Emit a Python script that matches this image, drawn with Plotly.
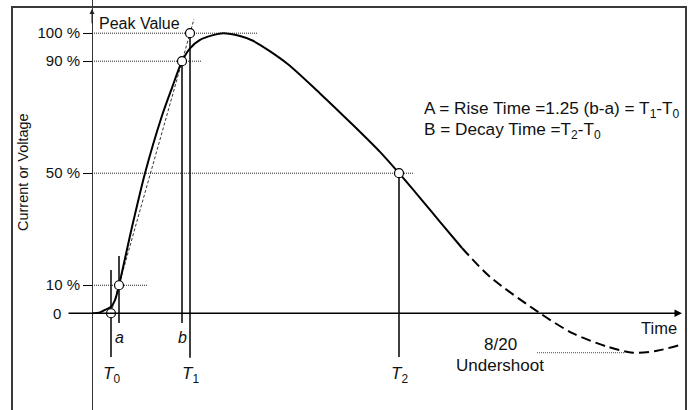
import plotly.graph_objects as go

# ---------------- data (time in arbitrary units, amplitude in % of peak) ----------------
wave_t_solid = [0.0, 0.8, 1.3, 1.9, 2.3, 2.7, 3.95, 5.3, 6.95, 8.0, 9.0, 9.8,
                10.8, 12.1, 13.1, 14.8, 16.1, 19.5, 22.8, 26.1, 28.8, 30.7, 32.8, 34.8, 37.0]
wave_v_solid = [0.0, 0.3, 1.2, 2.3, 4.7, 10.0, 30.0, 50.0, 70.0, 80.5, 90.0, 94.6,
                97.6, 99.3, 100.0, 99.0, 97.3, 89.2, 78.5, 67.2, 57.6, 50.0, 41.2, 32.6, 23.3]
wave_t_dashed = [37.0, 39.8, 44.8, 48.1, 51.5, 54.1, 56.5, 58.7]
wave_v_dashed = [23.3, 13.0, 0.0, -7.2, -11.9, -14.1, -13.4, -11.4]

# characteristic times
T0, A_T, B_T, T1, T2 = 1.9, 2.7, 9.0, 9.8, 30.7
key_point_t = [T0, A_T, B_T, T1, T2]
key_point_v = [0, 10, 90, 100, 50]

# y tick levels
tick_vals = [10, 50, 90, 100]
tick_text = ["10 %", "50 %", "90 %", "100 %"]

# dotted guide lines: level -> end time
guide_levels = [100, 90, 50, 10]
guide_ends = [16.6, 11.0, 32.1, 5.5]

# vertical markers: time, bottom, top
vert_t = [T0, A_T, B_T, T1, T2]
vert_bottom = [-15.6, -3.5, -3.5, -15.9, -15.6]
vert_top = [15.4, 20.4, 90, 100, 50]

undershoot_level = -14.1
undershoot_span = [44.5, 53.3]

FONT = "Liberation Sans, Arial, sans-serif"
X_RANGE = [-9.2, 59.6]
Y_RANGE = [-34.55, 111.85]
FRAME_COL = "#3a3a3a"

fig = go.Figure()

# dotted horizontal guides
for lv, te in zip(guide_levels, guide_ends):
    fig.add_trace(go.Scatter(x=[0, te], y=[lv, lv], mode="lines",
                             line=dict(color="#222", width=1, dash="1px,1px"),
                             showlegend=False))
# undershoot guide
fig.add_trace(go.Scatter(x=undershoot_span, y=[undershoot_level] * 2, mode="lines",
                         line=dict(color="#444", width=1, dash="1px,1px"),
                         showlegend=False))

# vertical marker lines
for t, b, tp in zip(vert_t, vert_bottom, vert_top):
    fig.add_trace(go.Scatter(x=[t, t], y=[b, tp], mode="lines",
                             line=dict(color="#000", width=1.5),
                             showlegend=False))

# linear rise construction (dashed thin)
fig.add_trace(go.Scatter(x=[T0, T0 + (T1 - T0) * 1.05], y=[0, 105], mode="lines",
                         line=dict(color="#000", width=0.8, dash="3px,2px"),
                         showlegend=False))

# waveform
fig.add_trace(go.Scatter(x=wave_t_solid, y=wave_v_solid, mode="lines",
                         line=dict(color="#000", width=2, shape="spline", smoothing=0.8),
                         showlegend=False))
fig.add_trace(go.Scatter(x=wave_t_dashed, y=wave_v_dashed, mode="lines",
                         line=dict(color="#000", width=2, shape="spline", smoothing=0.8,
                                   dash="10px,5px"),
                         showlegend=False))

# circles
fig.add_trace(go.Scatter(x=key_point_t, y=key_point_v, mode="markers",
                         marker=dict(size=9, color="white", line=dict(color="#000", width=1.2)),
                         showlegend=False))

# invisible trace that activates the frame subplot (x2/y2)
fig.add_trace(go.Scatter(x=[0.5], y=[0.5], xaxis="x2", yaxis="y2", mode="markers",
                         marker=dict(size=1, opacity=0), showlegend=False))

ann = []
# time axis with arrow (incl. extension left of y axis for the 0 tick)
ann.append(dict(x=59.0, y=0, ax=-2.5, ay=0, xref="x", yref="y", axref="x", ayref="y",
                text="", showarrow=True, arrowhead=2, arrowsize=1, arrowwidth=1.5,
                arrowcolor="#000"))
# y axis arrow tip
ann.append(dict(x=0, y=108.6, ax=0, ay=103, xref="x", yref="y", axref="x", ayref="y",
                text="", showarrow=True, arrowhead=2, arrowsize=1, arrowwidth=1,
                arrowcolor="#222"))

def txt(x, y, s, size=15, xanchor="center", italic=False):
    ann.append(dict(x=x, y=y, xref="x", yref="y", text=s, showarrow=False,
                    xanchor=xanchor, yanchor="middle",
                    font=dict(family=FONT, size=size, color="#111",
                              style="italic" if italic else "normal")))

txt(-2.9, 0, "0", xanchor="right")
txt(0.5, 103.3, "Peak Value", size=16, xanchor="left")
txt(33.0, 72.6, "A = Rise Time =1.25 (b-a) = T<sub>1</sub>-T<sub>0</sub>", size=17.2, xanchor="left")
txt(33.0, 65.1, "B = Decay Time =T<sub>2</sub>-T<sub>0</sub>", size=17.2, xanchor="left")
txt(A_T, -8.5, "a", size=16, italic=True)
txt(B_T, -8.5, "b", size=16, italic=True)
for t, s in [(T0, "0"), (T1, "1"), (T2, "2")]:
    ann.append(dict(x=t, y=-22.0, xref="x", yref="y", showarrow=False,
                    text="<i>T</i><sub>" + s + "</sub>", xanchor="center", yanchor="middle",
                    font=dict(family=FONT, size=17, color="#111")))
txt(58.7, -5.3, "Time", size=16.5, xanchor="right")
txt(40.8, -11.3, "8/20", size=17)
txt(40.8, -18.5, "Undershoot", size=17)

# y axis title
ann.append(dict(x=23 / 688, y=(410 - 172) / 410, xref="paper", yref="paper",
                text="Current or Voltage", textangle=-90, showarrow=False,
                xanchor="center", yanchor="middle",
                font=dict(family=FONT, size=14.5, color="#111")))

fig.update_layout(
    width=688, height=410,
    margin=dict(l=0, r=0, t=0, b=0),
    paper_bgcolor="white", plot_bgcolor="rgba(0,0,0,0)",
    hovermode=False,
    xaxis=dict(range=X_RANGE, visible=False),
    yaxis=dict(range=Y_RANGE, anchor="free", position=92 / 688,
               showline=True, linecolor="#333", linewidth=1,
               ticks="outside", ticklen=9, tickwidth=1, tickcolor="#000",
               tickvals=tick_vals, ticktext=tick_text,
               tickfont=dict(family=FONT, size=15, color="#111"),
               showgrid=False, zeroline=False),
    # frame: top line from xaxis2, left/right lines from mirrored yaxis2
    xaxis2=dict(domain=[13 / 688, 685 / 688], anchor="y2", side="top", range=[0, 1],
                showline=True, mirror=False, linecolor=FRAME_COL, linewidth=2,
                showticklabels=False, ticks="", showgrid=False, zeroline=False),
    yaxis2=dict(domain=[0, 402 / 410], anchor="x2", range=[0, 1],
                showline=True, mirror=True, linecolor=FRAME_COL, linewidth=2,
                showticklabels=False, ticks="", showgrid=False, zeroline=False),
    annotations=ann,
    showlegend=False,
)

fig.write_html("out.html", config={"displayModeBar": False},
               post_script="document.body.style.margin='0';document.body.style.padding='0';")
